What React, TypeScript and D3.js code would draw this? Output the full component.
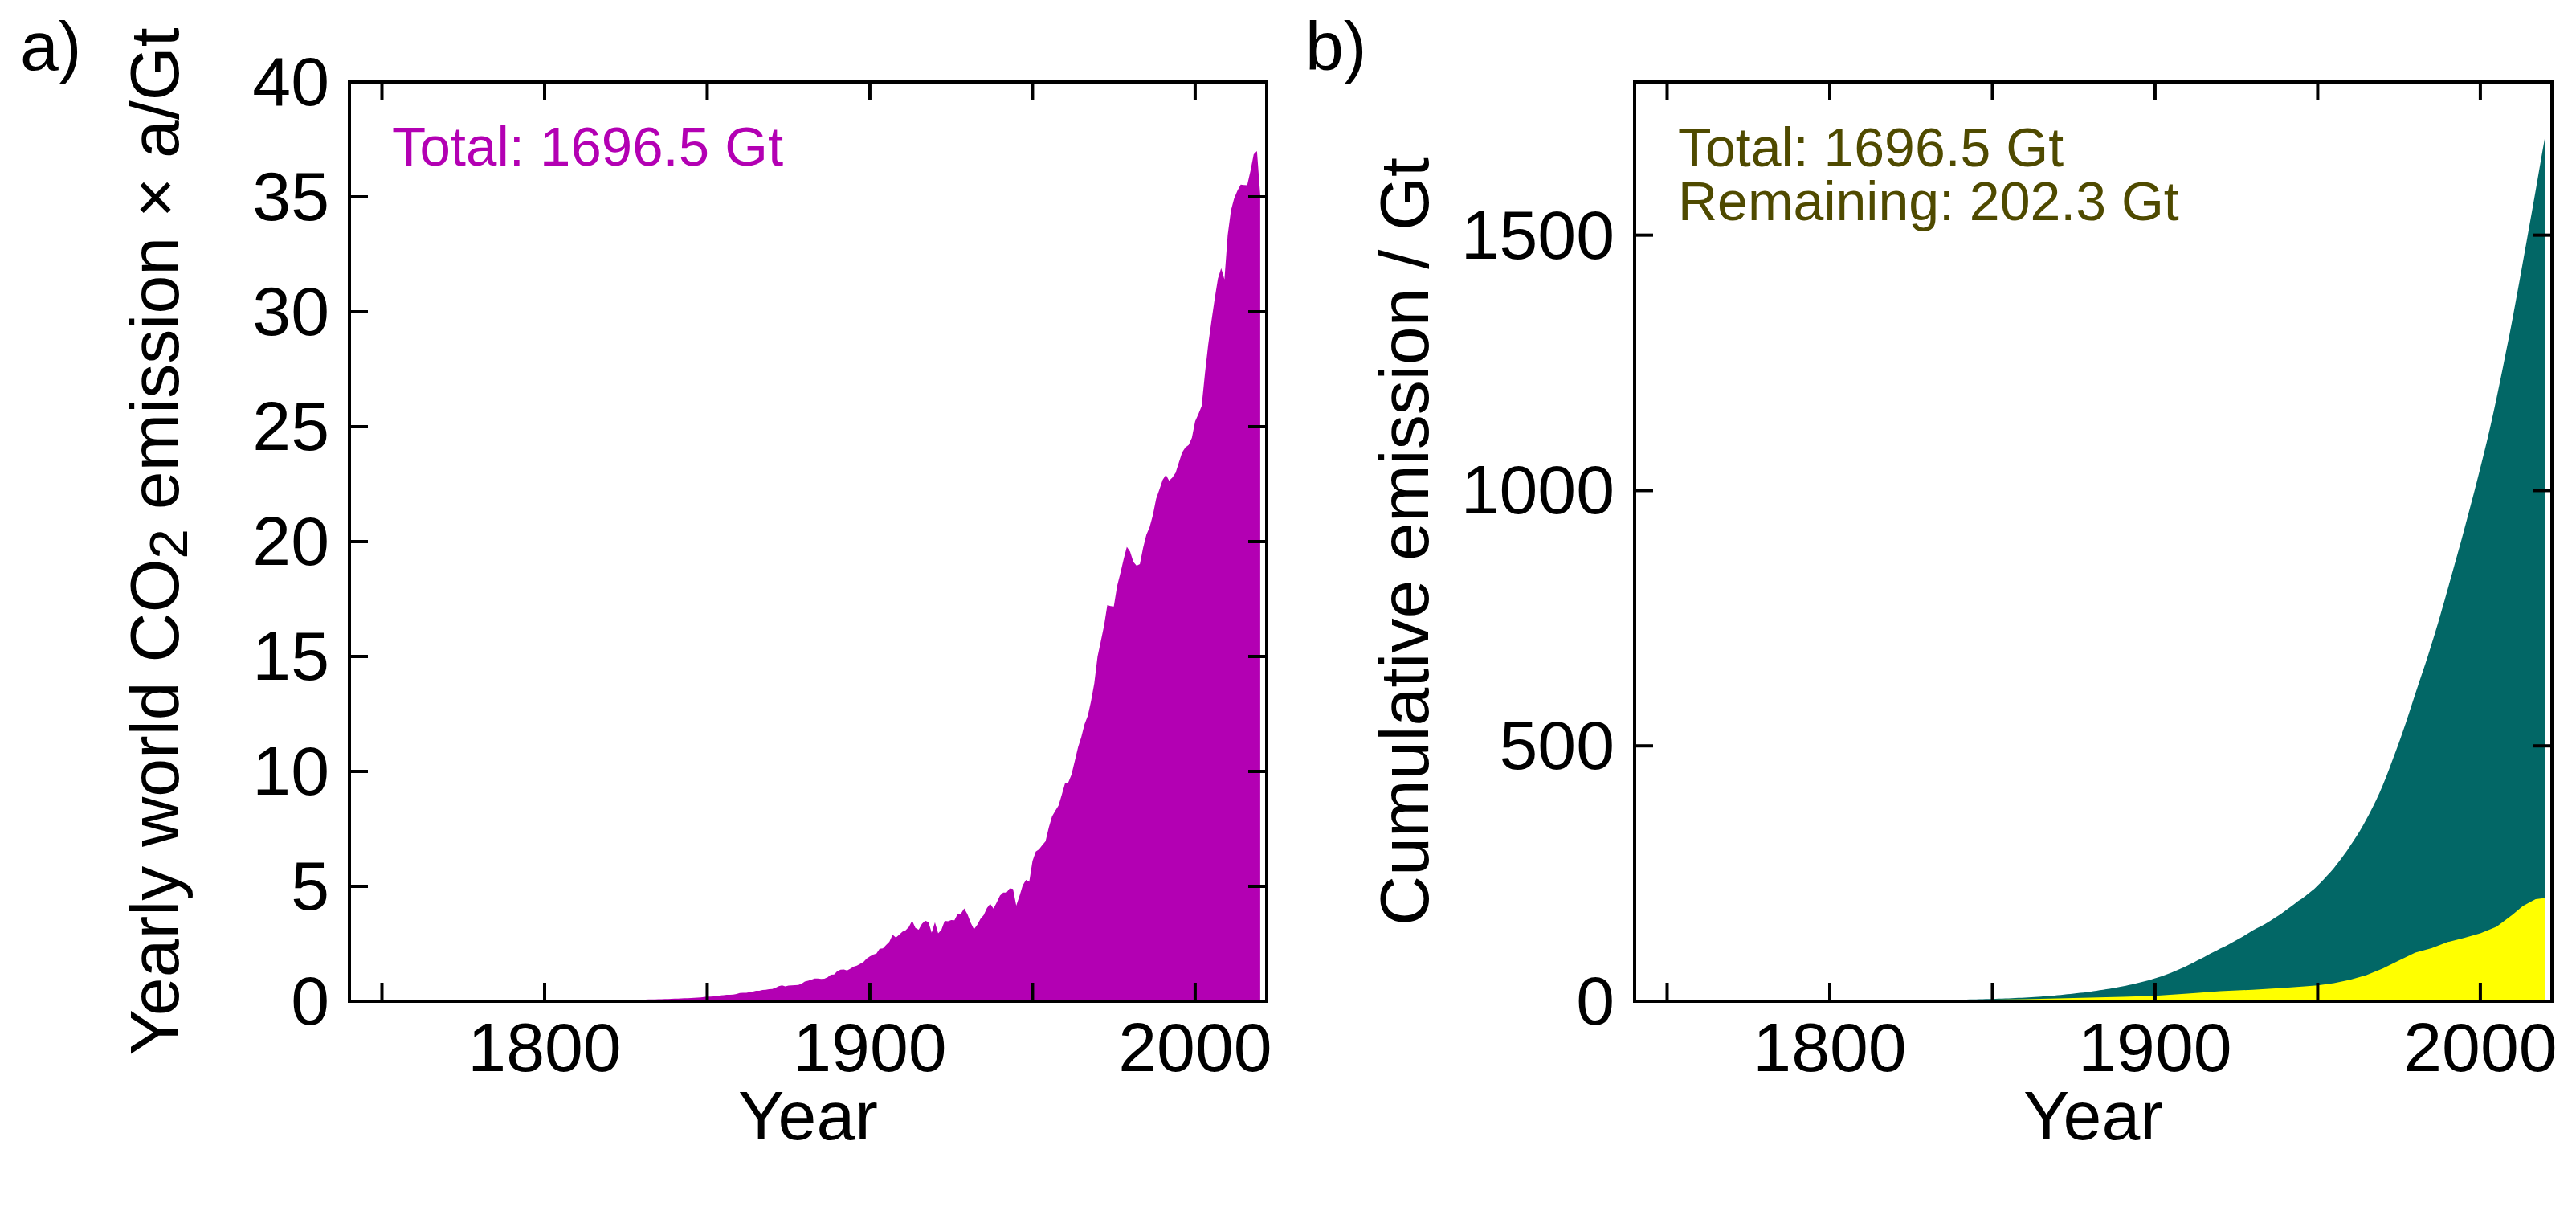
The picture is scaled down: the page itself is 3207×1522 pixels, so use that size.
import React from 'react';
import * as d3 from 'd3';

// ---------- data ----------
const FIRST_YEAR = 1750;

// Yearly world CO2 emission, Gt, one value per year from 1750 to 2020
const yearlyEmission = [
  // 1750-1799
  0.009, 0.009, 0.009, 0.009, 0.009, 0.010, 0.010, 0.010, 0.010, 0.010,
  0.010, 0.010, 0.010, 0.011, 0.011, 0.011, 0.011, 0.012, 0.012, 0.012,
  0.013, 0.013, 0.013, 0.014, 0.014, 0.015, 0.015, 0.016, 0.016, 0.017,
  0.017, 0.018, 0.018, 0.019, 0.019, 0.020, 0.021, 0.021, 0.022, 0.022,
  0.023, 0.023, 0.024, 0.024, 0.025, 0.025, 0.026, 0.026, 0.027, 0.027,
  // 1800-1849
  0.028, 0.029, 0.029, 0.030, 0.031, 0.031, 0.032, 0.033, 0.034, 0.034,
  0.035, 0.036, 0.037, 0.038, 0.039, 0.040, 0.041, 0.042, 0.043, 0.044,
  0.047, 0.049, 0.051, 0.053, 0.055, 0.057, 0.059, 0.061, 0.063, 0.066,
  0.069, 0.072, 0.075, 0.079, 0.083, 0.087, 0.091, 0.095, 0.100, 0.104,
  0.110, 0.115, 0.121, 0.127, 0.133, 0.140, 0.150, 0.160, 0.170, 0.180,
  // 1850-1899
  0.197, 0.198, 0.207, 0.217, 0.255, 0.262, 0.282, 0.283, 0.290, 0.317,
  0.356, 0.370, 0.365, 0.392, 0.421, 0.454, 0.458, 0.490, 0.496, 0.522,
  0.533, 0.586, 0.653, 0.690, 0.649, 0.683, 0.693, 0.701, 0.708, 0.757,
  0.854, 0.893, 0.937, 0.990, 0.985, 0.970, 0.982, 1.037, 1.150, 1.160,
  1.313, 1.370, 1.384, 1.336, 1.419, 1.500, 1.549, 1.624, 1.703, 1.851,
  // 1900-1949
  1.952, 2.027, 2.076, 2.285, 2.296, 2.450, 2.589, 2.896, 2.768, 2.893,
  3.026, 3.086, 3.233, 3.501, 3.187, 3.114, 3.368, 3.501, 3.444, 2.982,
  3.438, 2.955, 3.115, 3.493, 3.475, 3.535, 3.526, 3.804, 3.811, 4.041,
  3.784, 3.416, 3.131, 3.319, 3.586, 3.751, 4.054, 4.239, 4.033, 4.304,
  4.600, 4.728, 4.726, 4.912, 4.887, 4.165, 4.577, 5.042, 5.282, 5.205,
  // 1950-1999
  6.103, 6.510, 6.612, 6.794, 6.954, 7.553, 8.038, 8.288, 8.510, 8.988,
  9.487, 9.515, 9.866, 10.454, 11.046, 11.494, 12.056, 12.420, 13.062, 13.839,
  14.998, 15.667, 16.349, 17.239, 17.196, 17.177, 18.060, 18.620, 19.223, 19.771,
  19.567, 19.117, 18.955, 19.022, 19.730, 20.300, 20.630, 21.150, 21.860, 22.260,
  22.680, 22.900, 22.650, 22.790, 23.000, 23.440, 23.880, 24.104, 24.205, 24.517,
  // 2000-2020
  25.235, 25.547, 25.899, 27.300, 28.560, 29.590, 30.560, 31.440, 31.900, 31.407,
  33.332, 34.409, 34.939, 35.272, 35.533, 35.518, 35.505, 36.130, 36.850, 36.990,
  35.100,
];

// Remaining (yellow) emission in panel b, Gt
const remainingYears = [
  1750, 1775, 1800, 1825, 1850, 1860, 1870, 1880, 1890, 1900, 1910, 1920, 1930,
  1940, 1946, 1950, 1955, 1960, 1965, 1970, 1975, 1980, 1985, 1990, 1995, 2000,
  2005, 2010, 2013, 2015, 2017, 2020,
];
const remainingValues = [
  0, 0.4, 0.9, 1.6, 3, 4, 5.5, 7, 8.5, 10.5, 15, 19.5, 22.5,
  26.5, 29, 31, 35.5, 42, 51, 64, 80, 95, 104, 116, 124, 133,
  146, 170, 186, 193, 200, 202.3,
];

const xTickYears = [1750, 1800, 1850, 1900, 1950, 2000];
const xLabelYears = [1800, 1900, 2000];
const yTicksA = [0, 5, 10, 15, 20, 25, 30, 35, 40];
const yTicksB = [0, 500, 1000, 1500];
const totalLabel = 'Total: 1696.5 Gt';
const remainingLabel = 'Remaining: 202.3 Gt';

// ---------- layout ----------
const W = 3207;
const H = 1522;
const FONT = "'Liberation Sans', Arial, Helvetica, sans-serif";
const FS = 86;
const TOP = 102;
const BOTTOM = 1246;
const PANEL_A = { left: 435, right: 1577 };
const PANEL_B = { left: 2035, right: 3177 };
const X_DOMAIN: [number, number] = [1740, 2022];
const TICK = 23;
const LW = 4;

const PURPLE = '#b300b3';
const TEAL = '#026766';
const YELLOW = '#ffff00';
const OLIVE = '#4f4a00';

type Pt = { year: number; value: number };

function Frame({
  left,
  right,
  yScale,
  yTicks,
  xScale,
}: {
  left: number;
  right: number;
  yScale: d3.ScaleLinear<number, number>;
  yTicks: number[];
  xScale: d3.ScaleLinear<number, number>;
}) {
  return (
    <g>
      {xTickYears.map((yr) => (
        <g key={'xt' + yr}>
          <line x1={xScale(yr)} x2={xScale(yr)} y1={BOTTOM} y2={BOTTOM - TICK} stroke="#000" strokeWidth={LW} />
          <line x1={xScale(yr)} x2={xScale(yr)} y1={TOP} y2={TOP + TICK} stroke="#000" strokeWidth={LW} />
        </g>
      ))}
      {yTicks.map((v) => (
        <g key={'yt' + v}>
          <line x1={left} x2={left + TICK} y1={yScale(v)} y2={yScale(v)} stroke="#000" strokeWidth={LW} />
          <line x1={right} x2={right - TICK} y1={yScale(v)} y2={yScale(v)} stroke="#000" strokeWidth={LW} />
          <text x={left - 25} y={yScale(v) + 29} textAnchor="end" fontSize={FS} fontFamily={FONT}>
            {v}
          </text>
        </g>
      ))}
      {xLabelYears.map((yr) => (
        <text key={'xl' + yr} x={xScale(yr)} y={1333} textAnchor="middle" fontSize={FS} fontFamily={FONT}>
          {yr}
        </text>
      ))}
      <rect x={left} y={TOP} width={right - left} height={BOTTOM - TOP} fill="none" stroke="#000" strokeWidth={LW} />
      <text x={(left + right) / 2} y={1418} textAnchor="middle" fontSize={FS} fontFamily={FONT}>
        Year
      </text>
    </g>
  );
}

export default function App() {
  const yearly: Pt[] = yearlyEmission.map((v, i) => ({ year: FIRST_YEAR + i, value: v }));
  const cum = d3.cumsum(yearlyEmission);
  const cumulative: Pt[] = yearly.map((d, i) => ({ year: d.year, value: cum[i] }));
  const remaining: Pt[] = remainingYears.map((y, i) => ({ year: y, value: remainingValues[i] }));

  const xA = d3.scaleLinear().domain(X_DOMAIN).range([PANEL_A.left, PANEL_A.right]);
  const xB = d3.scaleLinear().domain(X_DOMAIN).range([PANEL_B.left, PANEL_B.right]);
  const yA = d3.scaleLinear().domain([0, 40]).range([BOTTOM, TOP]);
  const yB = d3.scaleLinear().domain([0, 1800]).range([BOTTOM, TOP]);

  const areaA = d3
    .area<Pt>()
    .x((d) => xA(d.year))
    .y0(yA(0))
    .y1((d) => yA(d.value));
  const areaCum = d3
    .area<Pt>()
    .x((d) => xB(d.year))
    .y0(yB(0))
    .y1((d) => yB(d.value));
  const areaRem = d3
    .area<Pt>()
    .x((d) => xB(d.year))
    .y0(yB(0))
    .y1((d) => yB(d.value));

  const yMid = (TOP + BOTTOM) / 2;

  return (
    <svg
      width={W}
      height={H}
      viewBox={`0 0 ${W} ${H}`}
      style={{ position: 'absolute', left: 0, top: 0, display: 'block', background: '#fff' }}
    >
      <rect x={0} y={0} width={W} height={H} fill="#fff" />

      {/* Panel a */}
      <path d={areaA(yearly) ?? ''} fill={PURPLE} />
      <text x={488} y={206} fontSize={69} fontFamily={FONT} fill={PURPLE}>
        {totalLabel}
      </text>
      <Frame left={PANEL_A.left} right={PANEL_A.right} yScale={yA} yTicks={yTicksA} xScale={xA} />
      <text x={25} y={87} fontSize={FS} fontFamily={FONT}>
        a)
      </text>
      <text
        transform={`translate(222, ${yMid}) rotate(-90)`}
        textAnchor="middle"
        fontSize={FS}
        fontFamily={FONT}
      >
        Yearly world CO
        <tspan fontSize={67} dy={11}>
          2
        </tspan>
        <tspan dy={-11}> emission × a/Gt</tspan>
      </text>

      {/* Panel b */}
      <path d={areaCum(cumulative) ?? ''} fill={TEAL} />
      <path d={areaRem(remaining) ?? ''} fill={YELLOW} />
      <text fontSize={68} fontFamily={FONT} fill={OLIVE}>
        <tspan x={2089} y={207}>
          {totalLabel}
        </tspan>
        <tspan x={2089} y={274}>
          {remainingLabel}
        </tspan>
      </text>
      <Frame left={PANEL_B.left} right={PANEL_B.right} yScale={yB} yTicks={yTicksB} xScale={xB} />
      <text x={1625} y={87} fontSize={FS} fontFamily={FONT}>
        b)
      </text>
      <text
        transform={`translate(1778, ${yMid}) rotate(-90)`}
        textAnchor="middle"
        fontSize={FS}
        fontFamily={FONT}
      >
        Cumulative emission / Gt
      </text>
    </svg>
  );
}
